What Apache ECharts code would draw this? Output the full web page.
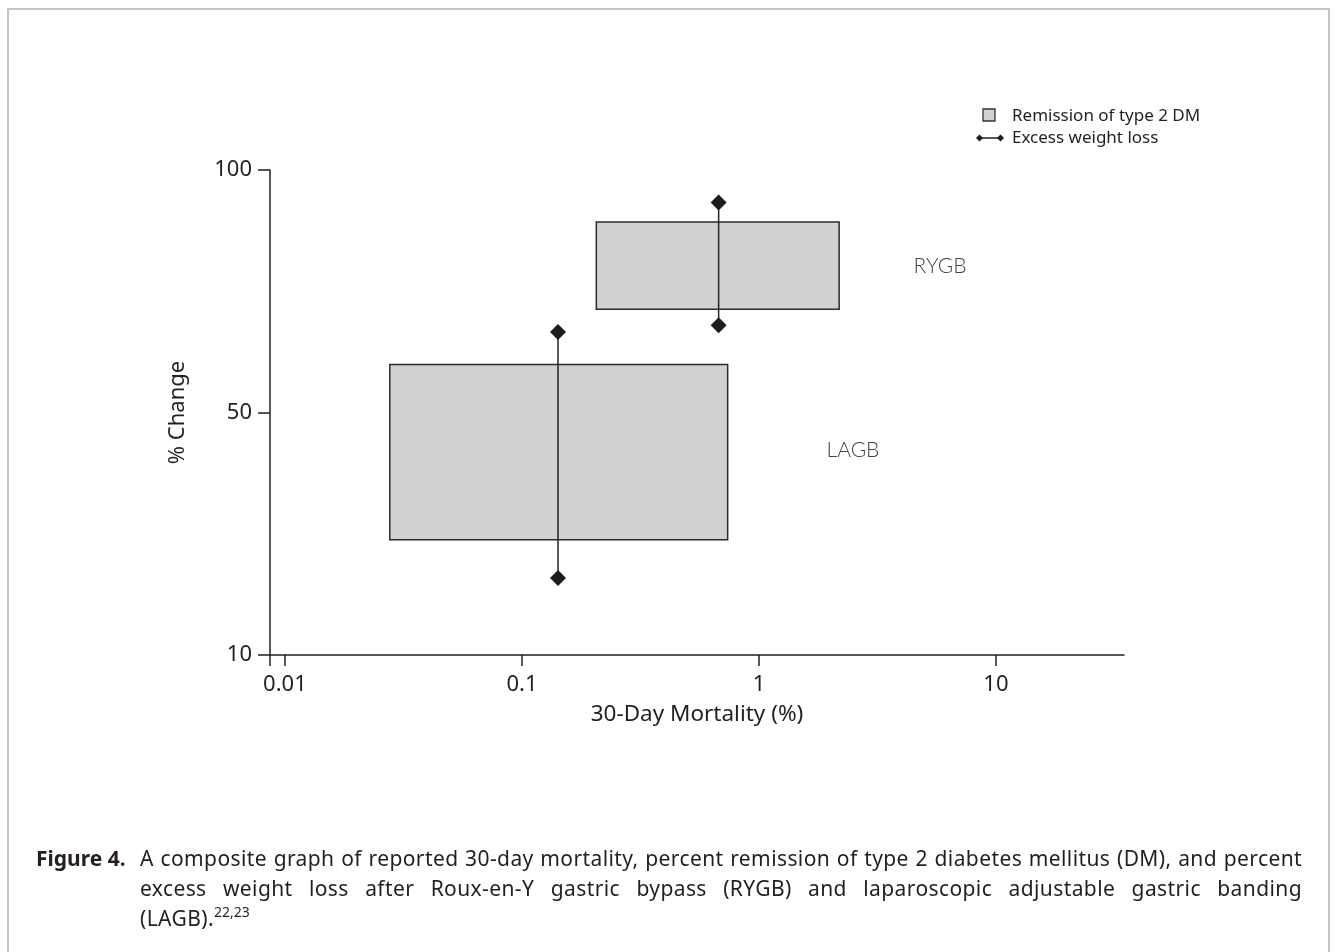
<!DOCTYPE html>
<html><head><meta charset="utf-8">
<script src="https://cdn.jsdelivr.net/npm/echarts@6/dist/echarts.min.js"></script>
<style>
html,body{margin:0;padding:0;background:#fff;}
#frame{position:absolute;left:7px;top:8px;width:1323px;height:960px;border:2px solid #c4c4c4;border-bottom:none;box-sizing:border-box;}
#chart{position:absolute;left:0;top:0;width:1336px;height:952px;}
#caption{position:absolute;left:36px;top:843px;width:1266px;display:flex;font-family:"Noto Sans",sans-serif;font-size:21px;letter-spacing:0.4px;line-height:30px;color:#231f20;}
#caption .lab{font-weight:bold;width:104px;flex:none;letter-spacing:0;}
#caption .txt{flex:1;}
#caption .j{text-align:justify;text-align-last:justify;white-space:nowrap;}
#caption sup{font-size:14px;line-height:0;vertical-align:9px;letter-spacing:0;}
</style>
</head><body>
<div id="frame"></div>
<div id="chart"></div>
<div id="caption"><div class="lab">Figure 4.</div><div class="txt">
<div class="j">A composite graph of reported 30-day mortality, percent remission of type 2 diabetes mellitus (DM), and percent</div>
<div class="j">excess weight loss after Roux-en-Y gastric bypass (RYGB) and laparoscopic adjustable gastric banding</div>
<div>(LAGB).<sup>22,23</sup></div>
</div></div>
<script>
// ---- data (mortality in %, change in %) ----
const groups = ['RYGB', 'LAGB'];
const mortalityLow = [0.206, 0.0277];
const mortalityHigh = [2.18, 0.738];
const remissionLow = [71.3, 29.0];
const remissionHigh = [89.3, 59.9];
const ewlMortality = [0.676, 0.142];
const ewlLow = [68.0, 22.7];
const ewlHigh = [93.3, 66.6];
const xTickLabels = [0.01, 0.1, 1, 10];
const yTickLabels = [10, 50, 100];

// ---- scale helpers ----
const lx = v => Math.log10(v);
// y axis: tick labels 10, 50, 100 are equally spaced; piecewise linear between them
const ty = v => {
  for (let i = 0; i < yTickLabels.length - 1; i++) {
    if (v <= yTickLabels[i + 1] || i === yTickLabels.length - 2) {
      return i + (v - yTickLabels[i]) / (yTickLabels[i + 1] - yTickLabels[i]);
    }
  }
};

const FONT = '"Noto Sans", sans-serif';
const TXT = '#231f20';
const xMin = lx(0.00865), xMax = lx(34.7);

const chart = echarts.init(document.getElementById('chart'), null, {renderer: 'canvas'});

const boxData = groups.map((g, i) => [lx(mortalityLow[i]), lx(mortalityHigh[i]), ty(remissionLow[i]), ty(remissionHigh[i])]);

const lineSeries = groups.map((g, i) => ({
  type: 'line',
  name: 'Excess weight loss',
  data: [[lx(ewlMortality[i]), ty(ewlLow[i])], [lx(ewlMortality[i]), ty(ewlHigh[i])]],
  symbol: 'diamond',
  symbolSize: 16,
  showAllSymbol: true,
  lineStyle: {color: '#222', width: 1.5},
  itemStyle: {color: '#1c1c1c'},
  z: 3,
  animation: false,
  silent: true
}));

const option = {
  animation: false,
  grid: {left: 270, right: 212, top: 170, bottom: 297, containLabel: false},
  xAxis: {
    type: 'value',
    min: xMin, max: xMax,
    name: '30-Day Mortality (%)',
    nameLocation: 'middle',
    nameGap: 48,
    nameTextStyle: {fontFamily: FONT, fontSize: 22.5, color: TXT},
    axisLine: {onZero: false, lineStyle: {color: '#231f20', width: 1.5}},
    axisTick: {show: true, length: 11, lineStyle: {color: '#231f20', width: 1.5},
      customValues: [xMin].concat(xTickLabels.map(lx))},
    axisLabel: {
      customValues: xTickLabels.map(lx),
      margin: 19,
      fontFamily: FONT, fontSize: 22, color: TXT,
      formatter: v => String(xTickLabels.find(t => Math.abs(lx(t) - v) < 1e-6))
    },
    splitLine: {show: false}
  },
  yAxis: {
    type: 'value',
    min: 0, max: yTickLabels.length - 1,
    name: '% Change',
    nameLocation: 'middle',
    nameGap: 81,
    nameTextStyle: {fontFamily: FONT, fontSize: 22, color: TXT},
    axisLine: {onZero: false, lineStyle: {color: '#231f20', width: 1.5}},
    axisTick: {show: true, length: 12, lineStyle: {color: '#231f20', width: 1.5},
      customValues: yTickLabels.map((t, i) => i)},
    axisLabel: {
      customValues: yTickLabels.map((t, i) => i),
      margin: 18,
      fontFamily: FONT, fontSize: 22, color: TXT,
      formatter: v => String(yTickLabels[Math.round(v)])
    },
    splitLine: {show: false}
  },
  series: [{
    type: 'custom',
    name: 'Remission of type 2 DM',
    data: boxData,
    z: 1,
    silent: true,
    renderItem: (params, api) => {
      const p1 = api.coord([api.value(0), api.value(3)]);
      const p2 = api.coord([api.value(1), api.value(2)]);
      return {
        type: 'rect',
        shape: {x: p1[0], y: p1[1], width: p2[0] - p1[0], height: p2[1] - p1[1]},
        style: {fill: '#d0d1d3', stroke: '#2b2b2b', lineWidth: 1.5}
      };
    }
  }].concat(lineSeries),
  graphic: [
    {type: 'rect', shape: {x: 983, y: 109, width: 12, height: 12}, style: {fill: '#d0d1d3', stroke: '#333', lineWidth: 1.3}},
    {type: 'text', x: 1012, y: 116, style: {text: 'Remission of type 2 DM', font: '17px ' + FONT, fill: TXT, verticalAlign: 'middle'}},
    {type: 'line', shape: {x1: 979, y1: 138, x2: 1001, y2: 138}, style: {stroke: '#222', lineWidth: 1.5}},
    {type: 'polygon', shape: {points: [[976, 138], [979.5, 134.5], [983, 138], [979.5, 141.5]]}, style: {fill: '#1c1c1c'}},
    {type: 'polygon', shape: {points: [[997, 138], [1000.5, 134.5], [1004, 138], [1000.5, 141.5]]}, style: {fill: '#1c1c1c'}},
    {type: 'text', x: 1012, y: 138, style: {text: 'Excess weight loss', font: '17px ' + FONT, fill: TXT, verticalAlign: 'middle'}},
    {type: 'text', x: 940, y: 266, style: {text: 'RYGB', font: '300 21px Lato, ' + FONT, fill: '#444', align: 'center', verticalAlign: 'middle'}},
    {type: 'text', x: 853, y: 450, style: {text: 'LAGB', font: '300 21px Lato, ' + FONT, fill: '#444', align: 'center', verticalAlign: 'middle'}}
  ]
};
chart.setOption(option);
</script>
</body></html>
